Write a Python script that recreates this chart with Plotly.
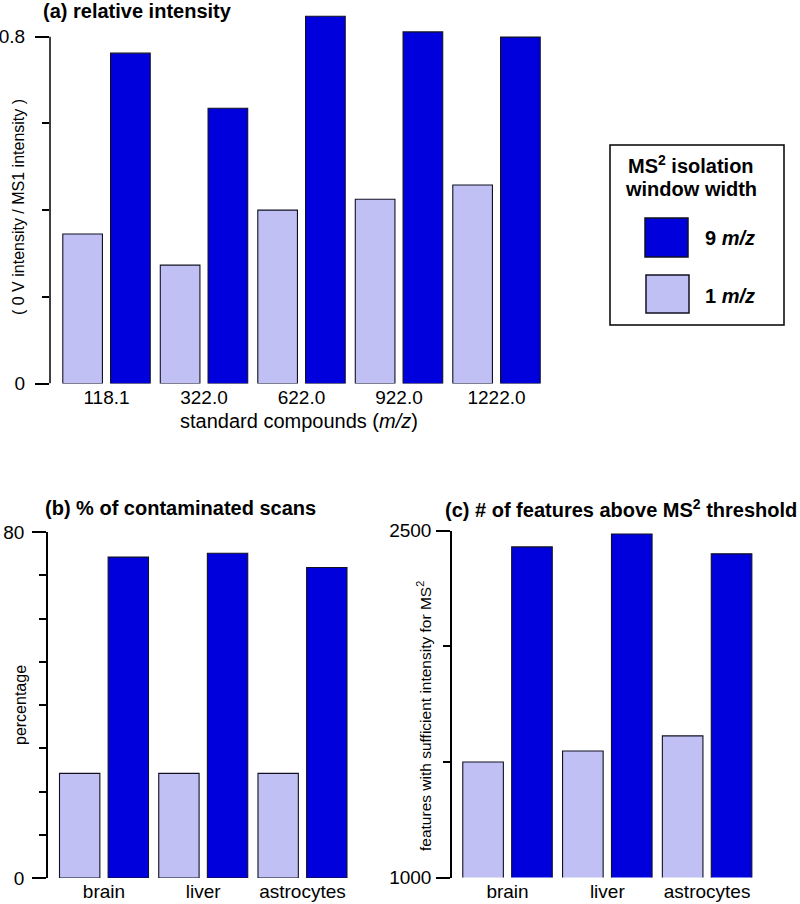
import plotly.graph_objects as go

# ---------------- data ----------------
compounds = ["118.1", "322.0", "622.0", "922.0", "1222.0"]
rel_int_1mz = [0.345, 0.273, 0.400, 0.425, 0.458]
rel_int_9mz = [0.762, 0.635, 0.847, 0.811, 0.799]

tissues = ["brain", "liver", "astrocytes"]
contam_1mz = [24.2, 24.2, 24.2]
contam_9mz = [74.2, 75.1, 71.8]

feat_1mz = [1499, 1547, 1612]
feat_9mz = [2429, 2485, 2399]

a_ticks_major = [0, 0.8]
a_ticks_minor = [0.2, 0.4, 0.6]
b_ticks_major = [0, 80]
b_ticks_minor = [10, 20, 30, 40, 50, 60, 70]
c_ticks_major = [1000, 2500]
c_ticks_minor = [1500, 2000]

# ---------------- style ----------------
DARK = "#0000DC"
LIGHT = "#C0C0F4"
EDGE = "#111122"
FONT = "Liberation Sans, Arial, sans-serif"
W, H = 800, 904


def px_x(p):
    return p / W


def px_y(p):
    return 1 - p / H


fig = go.Figure()


def add_pair(x, y1, y9, xa, ya):
    fig.add_trace(go.Bar(x=x, y=y1, name="1 m/z", marker=dict(color=LIGHT, line=dict(color=EDGE, width=1.1)),
                         xaxis=xa, yaxis=ya, showlegend=False))
    fig.add_trace(go.Bar(x=x, y=y9, name="9 m/z", marker=dict(color=DARK, line=dict(color=EDGE, width=1.1)),
                         xaxis=xa, yaxis=ya, showlegend=False))


add_pair(compounds, rel_int_1mz, rel_int_9mz, "x", "y")
add_pair(tissues, contam_1mz, contam_9mz, "x2", "y2")
add_pair(tissues, feat_1mz, feat_9mz, "x3", "y3")

tickfont = dict(family=FONT, size=19, color="black")


def xaxis_cfg(domain, rng, anchor):
    return dict(type="category", domain=domain, range=rng, anchor=anchor, showline=False,
                showgrid=False, zeroline=False, ticks="", tickfont=tickfont, fixedrange=True,
                automargin=False)


def yaxis_cfg(domain, rng, anchor, major, minor, showline, standoff):
    return dict(domain=domain, range=rng, anchor=anchor, showgrid=False, zeroline=False,
                showline=showline, linecolor="black", linewidth=1.5,
                tickmode="array", tickvals=major, ticktext=[str(v) for v in major],
                ticks="outside", ticklen=14, tickwidth=1.5, tickcolor="black",
                ticklabelstandoff=standoff,
                minor=dict(tickmode="array", tickvals=minor, ticks="outside", ticklen=7,
                           tickwidth=1.5, tickcolor="black"),
                tickfont=tickfont, fixedrange=True, automargin=False)


fig.update_layout(
    width=W, height=H,
    margin=dict(l=0, r=0, t=0, b=0, pad=0, autoexpand=False),
    paper_bgcolor="white", plot_bgcolor="white",
    barmode="group", bargap=0.02, bargroupgap=0.17,
    font=dict(family=FONT, color="black"),
    showlegend=False,
    xaxis=xaxis_cfg([px_x(50), px_x(545.25)], [-0.5795, 4.5], "y"),
    yaxis=yaxis_cfg([px_y(383.5), px_y(15.0)], [0, 0.85], "x", a_ticks_major, a_ticks_minor, False, 6),
    xaxis2=xaxis_cfg([px_x(48), px_x(352.1)], [-0.5642, 2.5], "y2"),
    yaxis2=yaxis_cfg([px_y(878), px_y(532)], [0, 80], "x2", b_ticks_major, b_ticks_minor, True, 4),
    xaxis3=xaxis_cfg([px_x(452), px_x(757)], [-0.5564, 2.5], "y3"),
    yaxis3=yaxis_cfg([px_y(877.5), px_y(530.5)], [1000, 2500], "x3", c_ticks_major, c_ticks_minor, True, 1),
)

# partial y-axis line for panel (a): from 0 to 0.8 only
fig.add_shape(type="line", xref="x domain", yref="y", x0=0, x1=0,
              y0=a_ticks_major[0], y1=a_ticks_major[-1], line=dict(color="black", width=1.5))

ann = []


def text(x, y, s, size, xanchor="center", angle=0, bold=False):
    if bold:
        s = "<b>" + s + "</b>"
    ann.append(dict(x=px_x(x), y=px_y(y), xref="paper", yref="paper", text=s, showarrow=False,
                    xanchor=xanchor, yanchor="middle", textangle=angle,
                    font=dict(family=FONT, size=size, color="black")))


# panel titles
text(41, 11, "(a) relative intensity", 20, xanchor="left", bold=True)
text(43, 508, "(b) % of contaminated scans", 20, xanchor="left", bold=True)
text(443, 508, "(c) # of features above MS<sup>2</sup> threshold", 20, xanchor="left", bold=True)

# axis titles
text(299, 421, "standard compounds (<i>m/z</i>)", 20)
text(18, 207, "( 0 V intensity / MS1 intensity )", 16, angle=-90)
text(20, 705, "percentage", 16, angle=-90)
text(424, 716, "features with sufficient intensity for MS<sup>2</sup>", 15.5, angle=-90)

# legend (drawn manually)
fig.add_shape(type="rect", xref="paper", yref="paper", x0=px_x(610), x1=px_x(784),
              y0=px_y(325), y1=px_y(145), line=dict(color="black", width=1.5), fillcolor="white", layer="below")
fig.add_shape(type="rect", xref="paper", yref="paper", x0=px_x(645), x1=px_x(688),
              y0=px_y(257), y1=px_y(218), line=dict(color=EDGE, width=1.5), fillcolor=DARK)
fig.add_shape(type="rect", xref="paper", yref="paper", x0=px_x(646), x1=px_x(689),
              y0=px_y(313), y1=px_y(275), line=dict(color=EDGE, width=1.5), fillcolor=LIGHT)
text(691, 165, "MS<sup>2</sup> isolation", 20, bold=True)
text(691, 189, "window width", 20, bold=True)
text(703, 238, "9 <i>m/z</i>", 20, xanchor="left", bold=True)
text(703, 296, "1 <i>m/z</i>", 20, xanchor="left", bold=True)

fig.update_layout(annotations=ann)

fig.write_html(
    "out.html",
    config={"displayModeBar": False},
    post_script="document.body.style.margin='0';document.body.style.padding='0';"
                "document.body.style.overflow='hidden';",
)
